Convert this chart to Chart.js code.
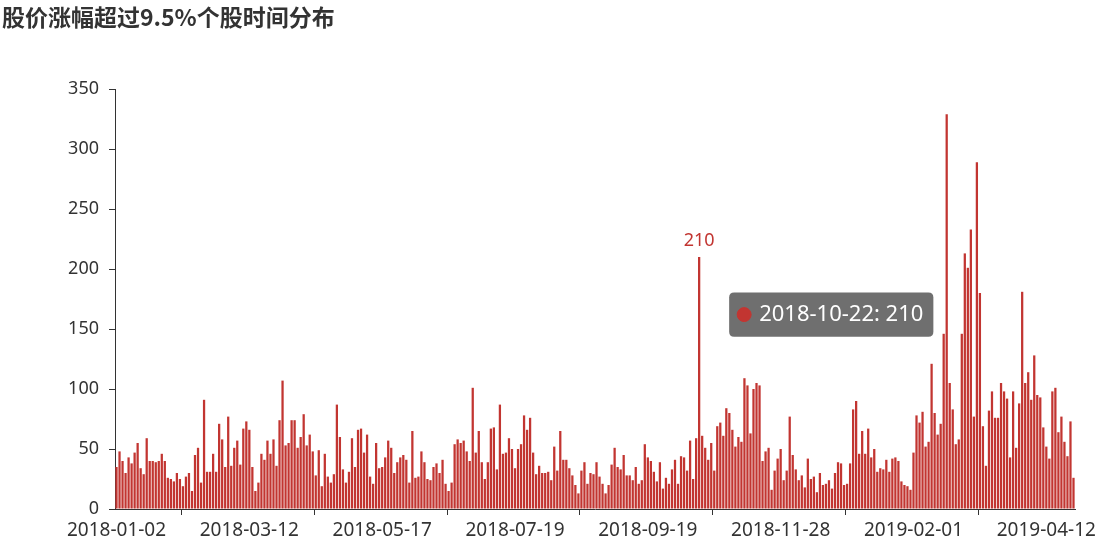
<!DOCTYPE html>
<html>
<head>
<meta charset="utf-8">
<script src="https://cdn.jsdelivr.net/npm/chart.js@4.4.1/dist/chart.umd.min.js"></script>
<style>
  html, body { margin: 0; padding: 0; background: #fff; }
  #wrap { width: 1109px; height: 549px; }
</style>
</head>
<body>
<div id="wrap"><canvas id="chart" width="1109" height="549"></canvas></div>
<script>
// trading days shown on the axis
const dates = [
  '2018-01-02','2018-01-03','2018-01-04','2018-01-05','2018-01-08','2018-01-09','2018-01-10','2018-01-11','2018-01-12','2018-01-15','2018-01-16','2018-01-17','2018-01-18','2018-01-19','2018-01-22','2018-01-23','2018-01-24','2018-01-25','2018-01-26','2018-01-29','2018-01-30','2018-01-31',
  '2018-02-01','2018-02-02','2018-02-05','2018-02-06','2018-02-07','2018-02-08','2018-02-09','2018-02-12','2018-02-13','2018-02-14','2018-02-22','2018-02-23','2018-02-26','2018-02-27','2018-02-28',
  '2018-03-01','2018-03-02','2018-03-05','2018-03-06','2018-03-07','2018-03-08','2018-03-09','2018-03-12','2018-03-13','2018-03-14','2018-03-15','2018-03-16','2018-03-19','2018-03-20','2018-03-21','2018-03-22','2018-03-23','2018-03-26','2018-03-27','2018-03-28','2018-03-29','2018-03-30',
  '2018-04-02','2018-04-03','2018-04-04','2018-04-09','2018-04-10','2018-04-11','2018-04-12','2018-04-13','2018-04-16','2018-04-17','2018-04-18','2018-04-19','2018-04-20','2018-04-23','2018-04-24','2018-04-25','2018-04-26','2018-04-27',
  '2018-05-02','2018-05-03','2018-05-04','2018-05-07','2018-05-08','2018-05-09','2018-05-10','2018-05-11','2018-05-14','2018-05-15','2018-05-16','2018-05-17','2018-05-18','2018-05-21','2018-05-22','2018-05-23','2018-05-24','2018-05-25','2018-05-28','2018-05-29','2018-05-30','2018-05-31',
  '2018-06-01','2018-06-04','2018-06-05','2018-06-06','2018-06-07','2018-06-08','2018-06-11','2018-06-12','2018-06-13','2018-06-14','2018-06-15','2018-06-19','2018-06-20','2018-06-21','2018-06-22','2018-06-25','2018-06-26','2018-06-27','2018-06-28','2018-06-29',
  '2018-07-02','2018-07-03','2018-07-04','2018-07-05','2018-07-06','2018-07-09','2018-07-10','2018-07-11','2018-07-12','2018-07-13','2018-07-16','2018-07-17','2018-07-18','2018-07-19','2018-07-20','2018-07-23','2018-07-24','2018-07-25','2018-07-26','2018-07-27','2018-07-30','2018-07-31',
  '2018-08-01','2018-08-02','2018-08-03','2018-08-06','2018-08-07','2018-08-08','2018-08-09','2018-08-10','2018-08-13','2018-08-14','2018-08-15','2018-08-16','2018-08-17','2018-08-20','2018-08-21','2018-08-22','2018-08-23','2018-08-24','2018-08-27','2018-08-28','2018-08-29','2018-08-30','2018-08-31',
  '2018-09-03','2018-09-04','2018-09-05','2018-09-06','2018-09-07','2018-09-10','2018-09-11','2018-09-12','2018-09-13','2018-09-14','2018-09-17','2018-09-18','2018-09-19','2018-09-20','2018-09-21','2018-09-25','2018-09-26','2018-09-27','2018-09-28',
  '2018-10-08','2018-10-09','2018-10-10','2018-10-11','2018-10-12','2018-10-15','2018-10-16','2018-10-17','2018-10-18','2018-10-19','2018-10-22','2018-10-23','2018-10-24','2018-10-25','2018-10-26','2018-10-29','2018-10-30','2018-10-31',
  '2018-11-01','2018-11-02','2018-11-05','2018-11-06','2018-11-07','2018-11-08','2018-11-09','2018-11-12','2018-11-13','2018-11-14','2018-11-15','2018-11-16','2018-11-19','2018-11-20','2018-11-21','2018-11-22','2018-11-23','2018-11-26','2018-11-27','2018-11-28','2018-11-29','2018-11-30',
  '2018-12-03','2018-12-04','2018-12-05','2018-12-06','2018-12-07','2018-12-10','2018-12-11','2018-12-12','2018-12-13','2018-12-14','2018-12-17','2018-12-18','2018-12-19','2018-12-20','2018-12-21','2018-12-24','2018-12-25','2018-12-26','2018-12-27','2018-12-28',
  '2019-01-03','2019-01-04','2019-01-07','2019-01-08','2019-01-09','2019-01-10','2019-01-11','2019-01-14','2019-01-15','2019-01-16','2019-01-17','2019-01-18','2019-01-21','2019-01-22','2019-01-23','2019-01-24','2019-01-25','2019-01-28','2019-01-29','2019-01-30','2019-01-31',
  '2019-02-01','2019-02-11','2019-02-12','2019-02-13','2019-02-14','2019-02-15','2019-02-18','2019-02-19','2019-02-20','2019-02-21','2019-02-22','2019-02-25','2019-02-26','2019-02-27','2019-02-28',
  '2019-03-01','2019-03-04','2019-03-05','2019-03-06','2019-03-07','2019-03-08','2019-03-11','2019-03-12','2019-03-13','2019-03-14','2019-03-15','2019-03-18','2019-03-19','2019-03-20','2019-03-21','2019-03-22','2019-03-25','2019-03-26','2019-03-27','2019-03-28','2019-03-29',
  '2019-04-01','2019-04-02','2019-04-03','2019-04-04','2019-04-08','2019-04-09','2019-04-10','2019-04-11','2019-04-12','2019-04-15','2019-04-16','2019-04-17','2019-04-18','2019-04-19','2019-04-22','2019-04-23','2019-04-24','2019-04-25'
];

// number of stocks rising more than 9.5% on each day
const counts = [
  35,48,40,30,43,38,47,55,34,29,59,40,40,39,40,46,40,26,25,23,30,25,19,27,30,15,45,51,22,91,31,31,46,31,71,58,35,77,36,51,
  57,37,67,73,66,35,15,22,46,41,57,46,58,36,74,107,53,55,74,74,51,60,79,53,62,48,28,49,19,46,27,22,29,87,60,33,22,31,59,35,
  66,67,47,62,27,21,55,34,35,43,57,51,30,39,43,45,41,22,65,26,27,48,39,25,24,35,38,30,41,21,15,22,54,58,55,57,48,40,101,47,
  65,39,25,39,67,68,33,87,46,47,59,50,34,50,54,78,66,76,47,29,36,30,30,31,24,52,32,65,41,41,34,28,20,13,32,39,21,30,29,
  39,27,21,13,20,37,51,35,33,45,28,28,24,35,21,24,54,43,40,31,23,39,17,26,21,33,41,21,44,43,32,57,25,59,210,61,51,41,55,32,
  69,72,61,84,80,66,52,60,56,109,103,63,100,105,103,40,48,51,16,32,42,50,24,32,77,45,33,24,28,18,42,25,27,14,30,20,21,24,17,30,
  39,38,20,21,38,83,90,46,65,46,67,43,50,31,34,33,41,31,42,43,40,23,20,19,16,47,78,72,81,52,56,121,80,62,71,146,329,105,83,54,
  58,146,213,201,233,77,289,180,69,36,82,98,76,76,105,98,92,43,98,51,88,181,105,114,91,128,95,93,68,52,42,98,101,64,77,56,44,73,26
];

const tickLabels = ['2018-01-02','2018-03-12','2018-05-17','2018-07-19','2018-09-19','2018-11-28','2019-02-01','2019-04-12'];
const focusDate = '2018-10-22';

const barColor = '#c23531';
const labelIdx = tickLabels.map(d => dates.indexOf(d));
// small tick marks sit half way between two labels
const markIdx = labelIdx.slice(1).map((v, k) => Math.round((labelIdx[k] + v) / 2));

Chart.Tooltip.positioners.beside = function(items) {
  if (!items.length) return false;
  const el = items[0].element;
  return { x: el.x + 30, y: this.chart.scales.y.getPixelForValue(162) };
};

const focusLabel = {
  id: 'focusLabel',
  afterDatasetsDraw(chart) {
    const i = dates.indexOf(focusDate);
    const bar = chart.getDatasetMeta(0).data[i];
    const c = chart.ctx;
    c.save();
    c.fillStyle = barColor;
    c.font = '18px "Noto Sans"';
    c.textAlign = 'center';
    c.textBaseline = 'bottom';
    c.fillText(String(counts[i]), bar.x, bar.y - 7);
    c.restore();
  }
};

const ctx = document.getElementById('chart').getContext('2d');
const chart = new Chart(ctx, {
  type: 'bar',
  data: {
    labels: dates,
    datasets: [{
      data: counts,
      backgroundColor: barColor,
      barPercentage: 0.75,
      categoryPercentage: 1
    }]
  },
  options: {
    responsive: false,
    animation: false,
    events: [],
    layout: { padding: { left: 2, right: 34, top: 0, bottom: 0 } },
    scales: {
      x: {
        grid: {
          drawOnChartArea: false,
          tickLength: 6,
          color: c => markIdx.includes(c.index) ? '#333' : 'rgba(0,0,0,0)'
        },
        border: { color: '#333' },
        ticks: {
          autoSkip: false,
          maxRotation: 0,
          minRotation: 0,
          padding: 4,
          color: '#333',
          font: { family: 'Noto Sans', size: 19 },
          callback: function(v) {
            const l = this.getLabelForValue(v);
            return tickLabels.includes(l) ? l : '';
          }
        },
        afterFit: s => { s.height = 40; }
      },
      y: {
        min: 0,
        max: 350,
        ticks: { stepSize: 50, padding: 10, color: '#333', font: { family: 'Noto Sans', size: 18 } },
        grid: { drawOnChartArea: false, tickLength: 6, color: '#333' },
        border: { color: '#333' },
        afterFit: s => { s.width = 113; }
      }
    },
    plugins: {
      legend: { display: false },
      title: {
        display: true,
        text: '股价涨幅超过9.5%个股时间分布',
        align: 'start',
        color: '#333',
        font: { family: 'Noto Sans CJK SC', size: 23, weight: 'bold', lineHeight: 1.2 },
        padding: { top: 3, bottom: 58.4 }
      },
      tooltip: {
        enabled: true,
        position: 'beside',
        xAlign: 'left',
        yAlign: 'center',
        caretSize: 0,
        caretPadding: 0,
        backgroundColor: 'rgba(50,50,50,0.7)',
        cornerRadius: 5,
        padding: { top: 9, bottom: 9, left: 8, right: 10 },
        displayColors: true,
        usePointStyle: true,
        boxWidth: 14,
        boxHeight: 14,
        boxPadding: 6,
        multiKeyBackground: 'rgba(0,0,0,0)',
        bodyColor: '#fff',
        bodyFont: { family: 'Noto Sans', size: 22 },
        callbacks: {
          title: () => '',
          label: c => c.label + ': ' + c.raw,
          labelColor: () => ({ borderColor: barColor, backgroundColor: barColor }),
          labelPointStyle: () => ({ pointStyle: 'circle', rotation: 0 })
        }
      }
    }
  },
  plugins: [focusLabel]
});

const fi = dates.indexOf(focusDate);
const fel = chart.getDatasetMeta(0).data[fi];
chart.tooltip.setActiveElements([{ datasetIndex: 0, index: fi }], { x: fel.x, y: fel.y });
chart.update();
</script>
</body>
</html>
